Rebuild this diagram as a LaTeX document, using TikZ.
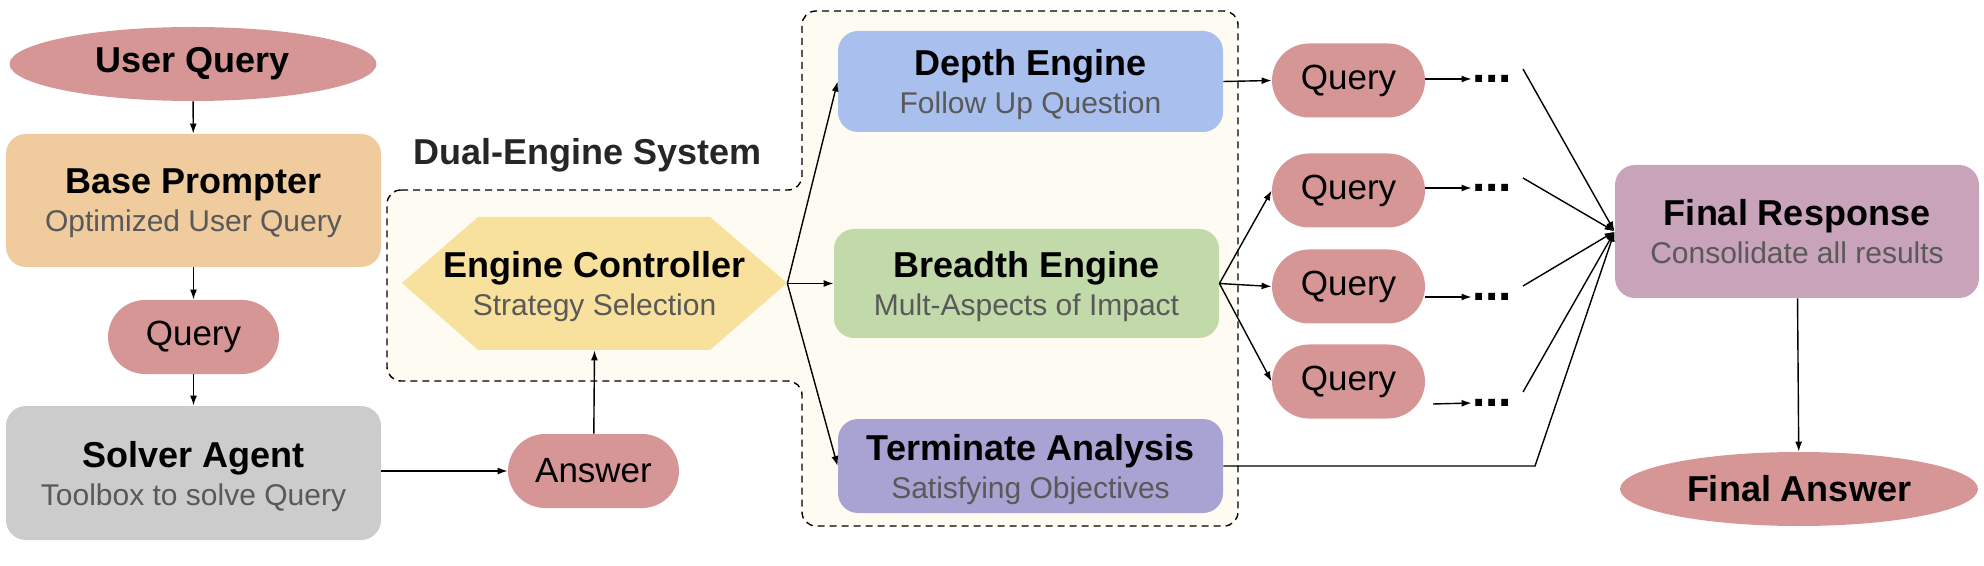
\documentclass[tikz,border=0pt]{standalone}
\usepackage{fontspec}
\setmainfont{Liberation Sans}
\usetikzlibrary{arrows.meta,shapes.geometric}
\definecolor{pinkq}{HTML}{D69696}
\definecolor{basec}{HTML}{EFCB9E}
\definecolor{solvc}{HTML}{CCCCCC}
\definecolor{hexc}{HTML}{F8E19C}
\definecolor{depthc}{HTML}{A9C0EF}
\definecolor{breadc}{HTML}{C2DAAA}
\definecolor{termc}{HTML}{A9A3D3}
\definecolor{frc}{HTML}{C8A3BA}
\definecolor{regionc}{HTML}{FEFCF2}
\definecolor{subgray}{HTML}{595959}
\definecolor{labgray}{HTML}{262626}
\newcommand{\twol}[2]{{\fontsize{18}{19}\selectfont\bfseries #1}\\{\fontsize{15}{19}\selectfont\color{subgray}#2}}
\begin{document}
\begin{tikzpicture}[x=0.5pt,y=-0.5pt,
  box/.style={rounded corners=10pt, minimum width=187.5pt, inner sep=0pt, align=center, text=black, text depth=0pt, font=\fontsize{15}{19}\selectfont},
  ebox/.style={box, minimum width=192.5pt},
  pill/.style={rounded corners=18.5pt, minimum width=85.5pt, minimum height=37pt, inner sep=0pt, fill=pinkq, font=\fontsize{17.5}{20}\selectfont},
  oval/.style={ellipse, fill=pinkq, minimum height=37pt, inner sep=0pt, font=\bfseries\fontsize{18}{20}\selectfont},
  dots/.style={inner sep=0pt, font=\bfseries\fontsize{24}{24}\selectfont},
  arr/.style={-{Latex[length=5pt,width=3.5pt]}, line width=0.7pt},
  ln/.style={line width=0.7pt}]
\useasboundingbox (0,0) rectangle (1984,566);

% dashed region
\draw[fill=regionc, dash pattern=on 3.5pt off 2.5pt, line width=0.7pt, rounded corners=7pt]
  (387,190) -- (802,190) -- (802,11) -- (1238,11) -- (1238,526) -- (802,526) -- (802,381) -- (387,381) -- cycle;
\node[font=\bfseries\fontsize{18}{20}\selectfont, text=labgray] (lab) at (587.5,155) {Dual-Engine System};

% left column
\node[oval, minimum width=183.5pt] (uq) at (193,64) {User Query};
\node[box, fill=basec, minimum height=66.5pt] (bp) at (193.5,200.5) {\twol{Base Prompter}{Optimized User Query}};
\node[pill] (q0) at (193.5,337) {Query};
\node[box, fill=solvc, minimum height=67pt] (sa) at (193.5,473) {\twol{Solver Agent}{Toolbox to solve Query}};
\node[pill] (ans) at (593.5,471) {Answer};

% engine controller
\fill[hexc] (402,283) -- (478,217) -- (710,217) -- (787,283) -- (710,350) -- (478,350) -- cycle;
\node[minimum width=192.5pt, minimum height=66.5pt, inner sep=0pt, align=center, text depth=0pt, font=\fontsize{15}{19}\selectfont] (ec) at (594.5,283.5) {\twol{Engine Controller}{Strategy Selection}};

% engines
\node[ebox, fill=depthc, minimum height=50.5pt] (de) at (1030.5,81.5) {\twol{Depth Engine}{Follow Up Question}};
\node[ebox, fill=breadc, minimum height=54.5pt] (be) at (1026.5,283.5) {\twol{Breadth Engine}{Mult-Aspects of Impact}};
\node[ebox, fill=termc, minimum height=47pt] (te) at (1030.5,466) {\twol{Terminate Analysis}{Satisfying Objectives}};

% queries
\node[pill, minimum width=76.5pt] (q1) at (1348.5,80.5) {Query};
\node[pill, minimum width=76.5pt] (q2) at (1348.5,190.5) {Query};
\node[pill, minimum width=76.5pt] (q3) at (1348.5,286.5) {Query};
\node[pill, minimum width=76.5pt] (q4) at (1348.5,381.5) {Query};
\node[dots] (d1) at (1492,79) {...};
\node[dots] (d2) at (1492,188) {...};
\node[dots] (d3) at (1492,297) {...};
\node[dots] (d4) at (1492,403) {...};

% final
\node[box, fill=frc, minimum width=182pt, minimum height=66.5pt] (fr) at (1797,231.5) {\twol{Final Response}{Consolidate all results}};
\node[oval, minimum width=179pt] (fa) at (1799,489) {Final Answer};

% free ends
\coordinate (c4) at (1433,404);
\coordinate (e1) at (1523,69);
\coordinate (e2) at (1523,178);
\coordinate (e3) at (1523,286);
\coordinate (e4) at (1523,392);
\coordinate (t1) at (1535,466);

% connectors
\draw[arr] (uq) -- (bp);
\draw[arr] (bp) -- (q0);
\draw[arr] (q0) -- (sa);
\draw[arr] (sa.east |- ans.west) -- (ans.west);
\draw[arr] (ans) -- (ec.south);
\draw[arr] (ec.east) -- (de.west);
\draw[arr] (ec.east) -- (be.west);
\draw[arr] (ec.east) -- (te.west);
\draw[arr] (de.east) -- (q1.west);
\draw[arr] (be.east) -- (q2.west);
\draw[arr] (be.east) -- (q3.west);
\draw[arr] (be.east) -- (q4.west);
\draw[arr] (q1.east |- d1.west) -- (d1.west);
\draw[arr] (q2.east |- d2.west) -- (d2.west);
\draw[arr] (q3.east |- d3.west) -- (d3.west);
\draw[arr] (c4) -- (d4.west);
\draw[arr] (e1) -- (fr.west);
\draw[arr] (e2) -- (fr.west);
\draw[arr] (e3) -- (fr.west);
\draw[arr] (e4) -- (fr.west);
\draw[arr] (te.east) -- (t1) -- (fr.west);
\draw[arr] (fr) -- (fa);
\end{tikzpicture}
\end{document}
